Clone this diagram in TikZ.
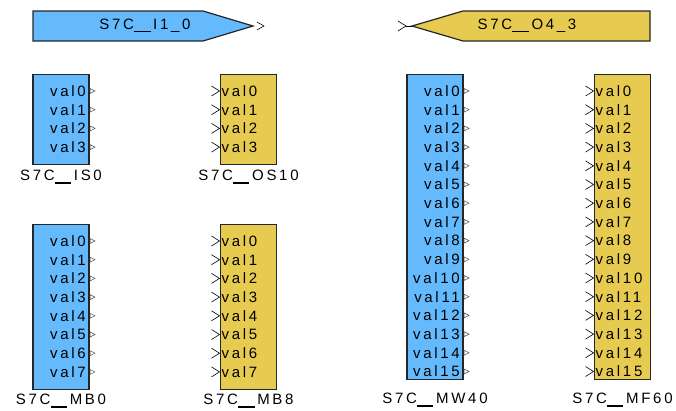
\documentclass[tikz,border=0pt]{standalone}
\usepackage{fontspec}
\setmainfont{Liberation Sans}[LetterSpace=18]
\usetikzlibrary{positioning}
\definecolor{inblue}{RGB}{100,186,252}
\definecolor{outyel}{RGB}{231,203,80}
\def\dus{\rule[-2.7pt]{16.5pt}{1.1pt}\kern2.7pt}
\tikzset{
  blk/.style={draw=black!85,line width=1.3pt,minimum width=56pt,inner sep=0pt},
  pinlbl/.style={inner sep=0pt},
  flag/.style={draw=black!85,line width=1.2pt},
  outpin/.style={draw=black!70,fill=white,line width=0.5pt},
  inpin/.style={draw=black,line width=0.6pt}
}
% name, text, x centre, top, bottom, label y, last pin
\def\OutBlock#1#2#3#4#5#6#7{%
  \node[blk,fill=inblue,minimum height=#5-#4,anchor=north] (#1) at (#3,#4) {};
  \foreach \i in {0,...,#7}{
    \node[pinlbl,anchor=east] (#1-v\i) at (#3+25,#4+17+18.7*\i) {val\i};
    \draw[outpin] (#3+29,#4+14.5+18.7*\i) -- ++(5,2.5) -- ++(-5,2.5) -- cycle;
  }
  \node (#1-name) at (#3,#6) {#2};
}
\def\InBlock#1#2#3#4#5#6#7{%
  \node[blk,fill=outyel,minimum height=#5-#4,anchor=north] (#1) at (#3,#4) {};
  \foreach \i in {0,...,#7}{
    \node[pinlbl,anchor=west] (#1-v\i) at (#3-27,#4+17+18.7*\i) {val\i};
    \draw[inpin] (#3-37,#4+12+18.7*\i) -- ++(8,5) -- ++(-8,5);
  }
  \node (#1-name) at (#3,#6) {#2};
}

\begin{document}
\begin{tikzpicture}[x=1pt,y=-1pt,font=\fontsize{15}{18}\selectfont]
\useasboundingbox (0,0) rectangle (676,410);
% port flags
\draw[flag,fill=inblue] (33,11) -- (203,11) -- (253,26) -- (203,41) -- (33,41) -- cycle;
\node (i10) at (145,26) {S7C\dus I1\_0};
\draw[inpin] (257,22) -- (264,26) -- (257,30);
\draw[flag,fill=outyel] (412,26) -- (463,11) -- (650,11) -- (650,41) -- (463,41) -- cycle;
\node (o43) at (527,26) {S7C\dus O4\_3};
\draw[inpin] (398,21) -- (406,26) -- (398,31);
\draw[inpin] (406,26) -- (412,26);
% blocks
\OutBlock{is0}{S7C\dus IS0}{61}{74}{164}{177}{3}
\InBlock{os10}{S7C\dus OS10}{248.5}{74}{164}{177}{3}
\OutBlock{mb0}{S7C\dus MB0}{61}{224}{389}{401}{7}
\InBlock{mb8}{S7C\dus MB8}{248.5}{224}{389}{401}{7}
\OutBlock{mw40}{S7C\dus MW40}{435}{74}{379}{400}{15}
\InBlock{mf60}{S7C\dus MF60}{622.5}{74}{379}{400}{15}
\end{tikzpicture}
\end{document}
